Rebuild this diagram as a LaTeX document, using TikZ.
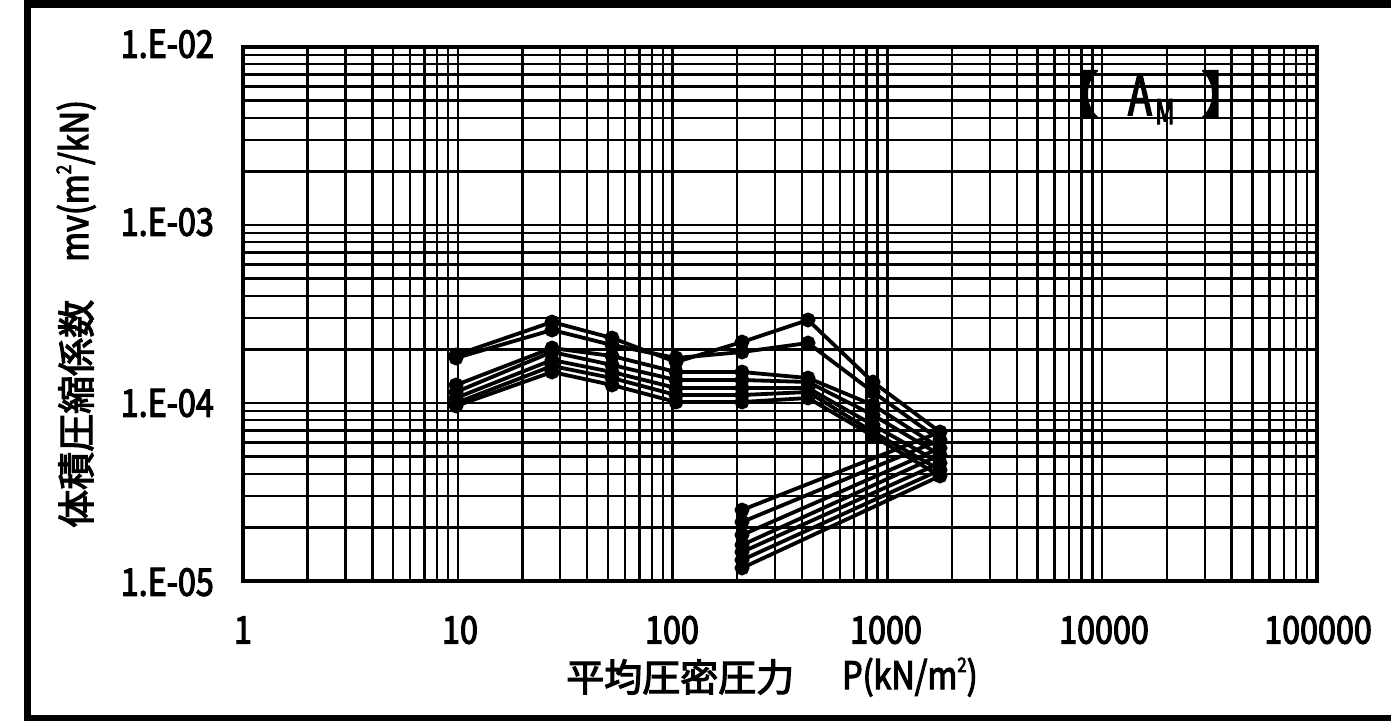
\documentclass[tikz,border=0pt]{standalone}
\usepackage{fontspec}
\newfontfamily\jpf[FakeBold=3]{Noto Sans CJK JP}
\newfontfamily\numf[FakeBold=3,FakeStretch=0.85]{Noto Sans CJK JP}
\newfontfamily\narf[FakeBold=3,FakeStretch=0.7]{Noto Sans CJK JP}
\newcommand{\mysq}{\raisebox{0.45em}{\fontsize{20}{20}\selectfont 2}}
\begin{document}
\begin{tikzpicture}[x=1pt,y=-1pt,
  gridl/.style={line width=2.4pt},
  ser/.style={line width=3.8pt, mark=*, mark size=5.5pt, mark options={solid}},
  ytick/.style={anchor=east, inner sep=0, font={\numf\fontsize{38}{38}\selectfont}},
  xtick/.style={anchor=center, inner sep=0, font={\numf\fontsize{38}{38}\selectfont}},
  jptitle/.style={inner sep=0, font={\jpf\fontsize{38}{38}\selectfont}},
  unit/.style={inner sep=0, font={\numf\fontsize{38}{38}\selectfont}}
  ]
\useasboundingbox (0,0) rectangle (1391,720);
\fill[white] (0,0) rectangle (1391,720);
% outer frame
\draw[line width=7pt] (1430,4) -- (27,4) -- (27,718) -- (1430,718);
% vertical grid
\foreach \d in {0,...,4}{
  \foreach \m in {2,...,9}{
    \pgfmathsetmacro\xx{243+214.8*(\d+ln(\m)/2.302585)}
    \draw[gridl] (\xx,47) -- (\xx,581);
  }
}
\foreach \d in {1,...,4}{
  \pgfmathsetmacro\xx{243+214.8*\d}
  \draw[gridl] (\xx,47) -- (\xx,581);
}
% horizontal grid
\foreach \d in {0,...,2}{
  \foreach \m in {2,...,9}{
    \pgfmathsetmacro\yy{581-178*(\d+ln(\m)/2.302585)}
    \draw[gridl] (243,\yy) -- (1317,\yy);
  }
}
\foreach \d in {1,2}{
  \pgfmathsetmacro\yy{581-178*\d}
  \draw[gridl] (243,\yy) -- (1317,\yy);
}
\draw[line width=3.5pt] (243,47) rectangle (1317,581);
% data series
\draw[ser] plot coordinates {(456,355) (552,322) (612,338) (676,362) (742,342) (808,320) (873,382) (940,432) (742,510)};
\draw[ser] plot coordinates {(456,358) (552,330) (612,345) (676,358) (742,352) (808,343) (873,392) (940,440) (742,522)};
\draw[ser] plot coordinates {(456,385) (552,348) (612,356) (676,372) (742,372) (808,378) (873,405) (940,448) (742,535)};
\draw[ser] plot coordinates {(456,392) (552,352) (612,365) (676,380) (742,380) (808,382) (873,415) (940,455) (742,545)};
\draw[ser] plot coordinates {(456,398) (552,360) (612,372) (676,388) (742,388) (808,388) (873,425) (940,463) (742,552)};
\draw[ser] plot coordinates {(456,403) (552,366) (612,378) (676,395) (742,395) (808,392) (873,432) (940,470) (742,560)};
\draw[ser] plot coordinates {(456,406) (552,372) (612,385) (676,402) (742,402) (808,398) (873,436) (940,476) (742,568)};
% y tick labels
\node[ytick] (y2) at (214,44) {1.E-02};
\node[ytick] (y3) at (214,222) {1.E-03};
\node[ytick] (y4) at (214,403) {1.E-04};
\node[ytick] (y5) at (214,582) {1.E-05};
% x tick labels
\node[xtick] (x0) at (243,630) {1};
\node[xtick] (x1) at (460,630) {10};
\node[xtick] (x2) at (672,630) {100};
\node[xtick] (x3) at (886,630) {1000};
\node[xtick] (x4) at (1104,630) {10000};
\node[xtick] (x5) at (1318,630) {100000};
% axis titles
\node[jptitle, anchor=west] (xt) at (566,677) {平均圧密圧力};
\node[unit, anchor=west] (xu) at (842,677) {P(kN/m\mysq)};
\node[jptitle, rotate=90, anchor=west] (yt) at (76,528) {体積圧縮係数};
\node[unit, rotate=90, anchor=west] (yu) at (76,262) {mv(m\mysq/kN)};
% layer label
\node[inner sep=0, anchor=east, font={\jpf\fontsize{50}{50}\selectfont}] (lb) at (1099,94) {【};
\node[inner sep=0, anchor=base west, font={\narf\fontsize{55}{55}\selectfont}] (la) at (1128,115) {A};
\node[inner sep=0, anchor=base west, font={\narf\fontsize{34}{34}\selectfont}] (lm) at (1155,124) {M};
\node[inner sep=0, anchor=west, font={\jpf\fontsize{50}{50}\selectfont}] (rb) at (1201,94) {】};
\end{tikzpicture}
\end{document}
